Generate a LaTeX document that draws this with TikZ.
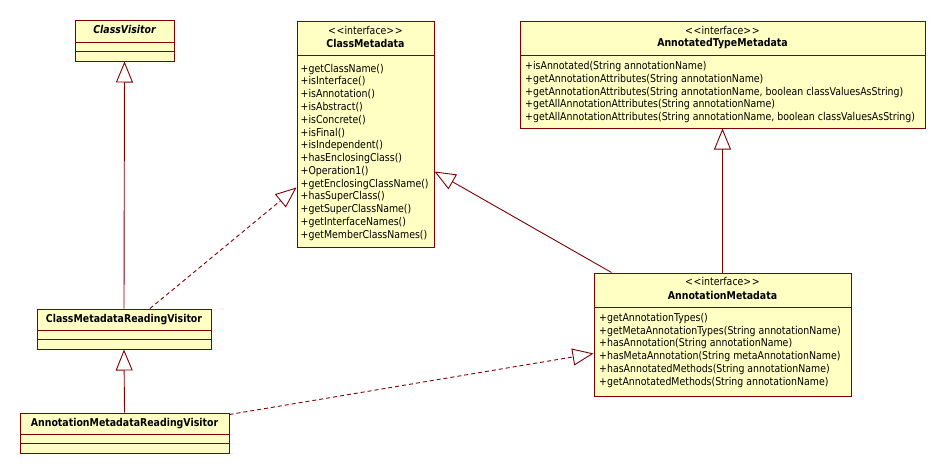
\documentclass[tikz,border=0pt]{standalone}
\usepackage{fontspec}
\setmainfont{DejaVu Sans}[FakeStretch=0.87]
\usetikzlibrary{arrows.meta,calc}
\definecolor{umlfill}{HTML}{FFFFC4}
\definecolor{umlline}{HTML}{800000}
\tikzset{
  cls/.style={draw=umlline, fill=umlfill, line width=1pt, inner sep=0pt, rectangle},
  sep/.style={draw=umlline, line width=1pt},
  txt/.style={inner sep=0pt, text height=7.6pt, text depth=2.2pt, font=\fontsize{10.8}{12}\selectfont},
  op/.style={txt, anchor=west},
  title/.style={txt, font=\fontsize{10.8}{12}\selectfont\bfseries},
  gen/.style={draw=umlline, line width=0.9pt, -{Triangle[open, length=21pt, width=17pt]}},
  real/.style={gen, dash pattern=on 4pt off 3pt}
}
\newcommand\umlbox[5]{\node[cls, minimum width={#4-#2}, minimum height={#5-#3}] (#1) at ({(#2+#4)/2},{(#3+#5)/2}) {};}
\newcommand\stereo{{<}\kern0.6pt{<}interface{>}\kern0.6pt{>}}
\begin{document}
\begin{tikzpicture}[x=1pt,y=-1pt]
\useasboundingbox[fill=white] (0,0) rectangle (945,474);

% ClassVisitor
\umlbox{cv}{75}{20}{174}{61}
\draw[sep] (75,42) -- (174,42) (75,51) -- (174,51);
\node[title, font=\fontsize{10.8}{12}\selectfont\bfseries\itshape] (cvt) at (124.5,31) {ClassVisitor};

% ClassMetadata
\umlbox{cm}{297}{21}{434}{247}
\draw[sep] (297,55) -- (434,55);
\node[txt] (cms) at (365.5,32) {\stereo};
\node[title] (cmt) at (365.5,45) {ClassMetadata};
\foreach \t [count=\i from 0] in {+getClassName(),+isInterface(),+isAnnotation(),+isAbstract(),+isConcrete(),+isFinal(),+isIndependent(),+hasEnclosingClass(),+Operation1(),+getEnclosingClassName(),+hasSuperClass(),+getSuperClassName(),+getInterfaceNames(),+getMemberClassNames()}
  \node[op] (cmo\i) at (300.5,{69.5+12.77*\i}) {\t};

% AnnotatedTypeMetadata
\umlbox{atm}{520}{21}{925}{128}
\draw[sep] (520,55) -- (925,55);
\node[txt] (atms) at (722.5,32) {\stereo};
\node[title] (atmt) at (722.5,44) {AnnotatedTypeMetadata};
\foreach \t [count=\i from 0] in {{+isAnnotated(String annotationName)},{+getAnnotationAttributes(String annotationName)},{+getAnnotationAttributes(String annotationName, boolean classValuesAsString)},{+getAllAnnotationAttributes(String annotationName)},{+getAllAnnotationAttributes(String annotationName, boolean classValuesAsString)}}
  \node[op] (atmo\i) at (525,{67+12.75*\i}) {\t};

% AnnotationMetadata
\umlbox{am}{594}{273}{851}{396}
\draw[sep] (594,307) -- (851,307);
\node[txt] (ams) at (722.5,283) {\stereo};
\node[title] (amt) at (722.5,297) {AnnotationMetadata};
\foreach \t [count=\i from 0] in {{+getAnnotationTypes()},{+getMetaAnnotationTypes(String annotationName)},{+hasAnnotation(String annotationName)},{+hasMetaAnnotation(String metaAnnotationName)},{+hasAnnotatedMethods(String annotationName)},{+getAnnotatedMethods(String annotationName)}}
  \node[op] (amo\i) at (599,{318.5+12.8*\i}) {\t};

% ClassMetadataReadingVisitor
\umlbox{cmrv}{37}{309}{211}{349}
\draw[sep] (37,330) -- (211,330) (37,339) -- (211,339);
\node[title] (cmrvt) at (124,319.5) {ClassMetadataReadingVisitor};

% AnnotationMetadataReadingVisitor
\umlbox{amrv}{20}{413}{229}{453}
\draw[sep] (20,434) -- (229,434) (20,443) -- (229,443);
\node[title] (amrvt) at (124.5,423.5) {AnnotationMetadataReadingVisitor};

% connectors
\draw[gen] (cmrv.north) -- (cv.south);
\draw[gen] (amrv.north) -- (cmrv.south);
\draw[real] ($(cmrv.north)+(26,0)$) -- ($(cm.north west)+(0,167)$);
\draw[gen] ($(am.north west)+(18,0)$) -- ($(cm.north east)+(0,151)$);
\draw[gen] (am.north) -- (atm.south);
\draw[real] ($(amrv.north east)+(0,2)$) -- ($(am.north west)+(0,81)$);
\end{tikzpicture}
\end{document}
